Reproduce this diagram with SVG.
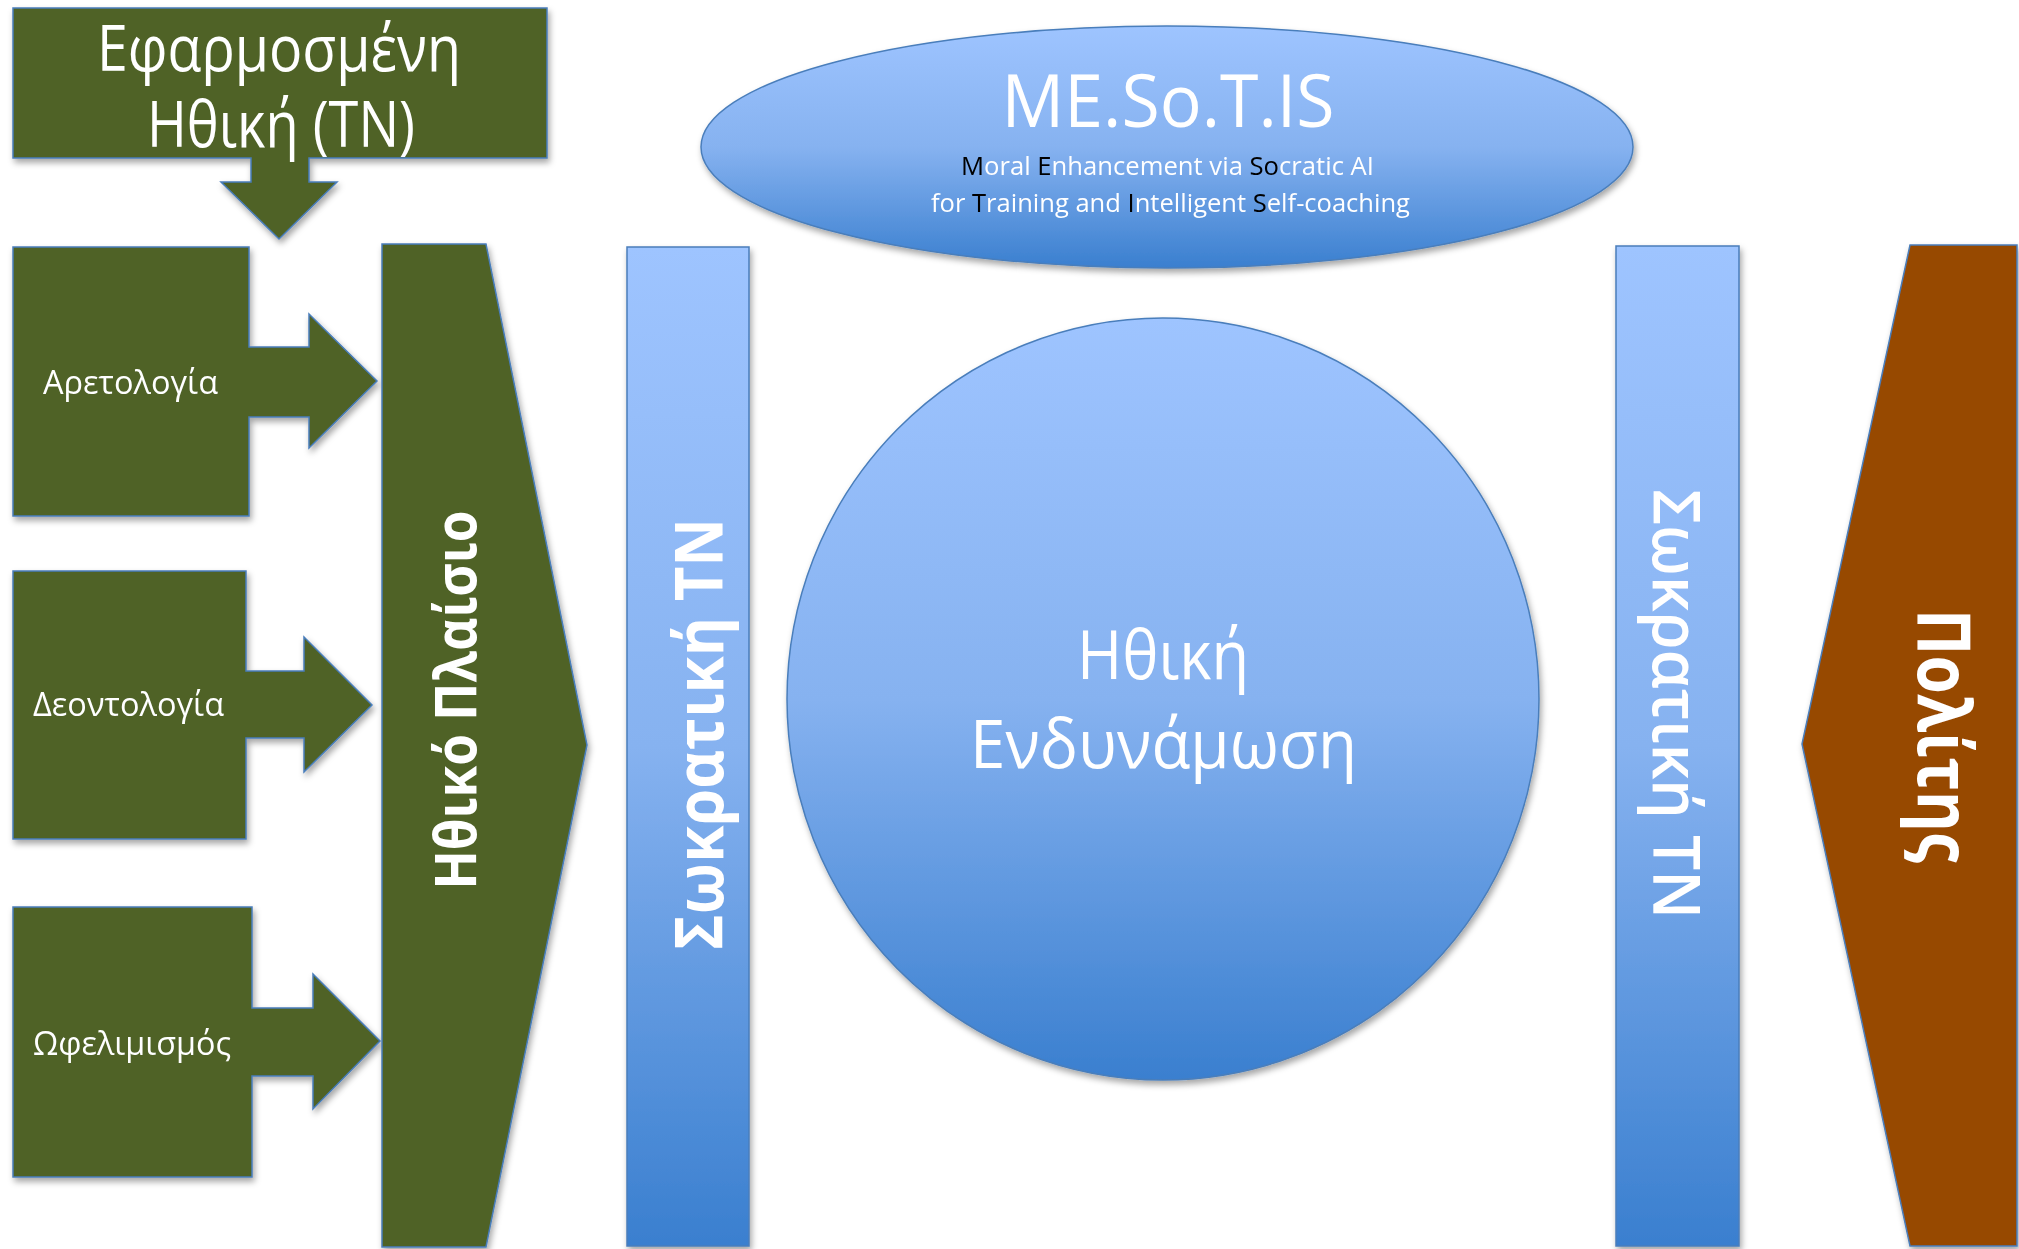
<svg xmlns="http://www.w3.org/2000/svg" width="2019" height="1249" viewBox="0 0 2019 1249">
<defs>
<linearGradient id="blue" x1="0" y1="0" x2="0" y2="1">
<stop offset="0" stop-color="#9EC4FF"/>
<stop offset="0.5" stop-color="#86B2F0"/>
<stop offset="1" stop-color="#3A7FCF"/>
</linearGradient>
<filter id="sh" x="-10%" y="-10%" width="120%" height="120%">
<feDropShadow dx="2" dy="4" stdDeviation="3" flood-color="#000" flood-opacity="0.35"/>
</filter>
</defs>
<style>
.green{fill:#4F6228;stroke:#4A7EBB;stroke-width:1.5}
.bl{fill:url(#blue);stroke:#4A7EBB;stroke-width:1.5}
.brown{fill:#974806;stroke:#4A7EBB;stroke-width:1.5}
text{font-family:"Open Sans","Noto Sans","DejaVu Sans",sans-serif;fill:#FFFFFF}
.lbl{font-size:32px}
.b{font-weight:bold}
.sb{font-weight:600}
.k{fill:#000000}
</style>
<rect width="2019" height="1249" fill="#FFFFFF"/>
<g id="connectors"/>
<g id="applied-ethics" filter="url(#sh)">
<path class="green" d="M13,8 H547 V158 H309 V182 H337 L279,239 L221,182 H251 V158 H13 Z"/>
<text x="279" y="71" font-size="64" text-anchor="middle" textLength="364" lengthAdjust="spacingAndGlyphs">Εφαρμοσμένη</text>
<text x="281" y="147" font-size="64" text-anchor="middle" textLength="268" lengthAdjust="spacingAndGlyphs">Ηθική (ΤΝ)</text>
</g>
<g id="virtue" filter="url(#sh)">
<path class="green" d="M13,247 H249 V347 H309 V314 L377,381 L309,448 V417 H249 V516 H13 Z"/>
<text class="lbl" x="43" y="394" textLength="175" lengthAdjust="spacingAndGlyphs">Αρετολογία</text>
</g>
<g id="deontology" filter="url(#sh)">
<path class="green" d="M13,571 H246 V671 H304 V637 L372,705 L304,772 V738 H246 V839 H13 Z"/>
<text class="lbl" x="33" y="716" textLength="191" lengthAdjust="spacingAndGlyphs">Δεοντολογία</text>
</g>
<g id="utilitarianism" filter="url(#sh)">
<path class="green" d="M13,907 H252 V1008 H313 V974 L380,1041 L313,1109 V1076 H252 V1177 H13 Z"/>
<text class="lbl" x="33" y="1055" textLength="198" lengthAdjust="spacingAndGlyphs">Ωφελιμισμός</text>
</g>
<g id="ethical-framework" filter="url(#sh)">
<path class="green" d="M382,244 H486 L587,745 L486,1247 H382 Z"/>
<text class="b" transform="translate(476,700) rotate(-90)" x="0" y="0" font-size="57" text-anchor="middle" textLength="379" lengthAdjust="spacingAndGlyphs">Ηθικό Πλαίσιο</text>
</g>
<g id="socratic-ai-left" filter="url(#sh)">
<rect class="bl" x="627" y="247" width="122" height="999"/>
<text class="b" transform="translate(723,734) rotate(-90)" x="0" y="0" font-size="66" text-anchor="middle" textLength="432" lengthAdjust="spacingAndGlyphs">Σωκρατική ΤΝ</text>
</g>
<g id="mesotis" filter="url(#sh)">
<ellipse class="bl" cx="1167" cy="147" rx="466" ry="121"/>
<text x="1168" y="127" font-size="73" text-anchor="middle" textLength="333" lengthAdjust="spacingAndGlyphs">ME.So.T.IS</text>
<text x="1167.5" y="175" font-size="25" text-anchor="middle" textLength="413" lengthAdjust="spacingAndGlyphs"><tspan class="k">M</tspan>oral <tspan class="k">E</tspan>nhancement via <tspan class="k">So</tspan>cratic AI</text>
<text x="1170.5" y="212" font-size="25" text-anchor="middle" textLength="479" lengthAdjust="spacingAndGlyphs">for <tspan class="k">T</tspan>raining and <tspan class="k">I</tspan>ntelligent <tspan class="k">S</tspan>elf-coaching</text>
</g>
<g id="moral-enhancement" filter="url(#sh)">
<ellipse class="bl" cx="1163" cy="699" rx="376" ry="381"/>
<text x="1163" y="679" font-size="67" text-anchor="middle" textLength="172" lengthAdjust="spacingAndGlyphs">Ηθική</text>
<text x="1163.5" y="768" font-size="67" text-anchor="middle" textLength="387" lengthAdjust="spacingAndGlyphs">Ενδυνάμωση</text>
</g>
<g id="socratic-ai-right" filter="url(#sh)">
<rect class="bl" x="1616" y="246" width="123" height="1000"/>
<text class="sb" transform="translate(1653,704) rotate(90)" x="0" y="0" font-size="66" text-anchor="middle" textLength="430" lengthAdjust="spacingAndGlyphs">Σωκρατική ΤΝ</text>
</g>
<g id="citizen" filter="url(#sh)">
<path class="brown" d="M1910,245 H2017 V1246 H1910 L1802,744 Z"/>
<text class="b" transform="translate(1918,736) rotate(90)" x="0" y="0" font-size="74" text-anchor="middle" textLength="254" lengthAdjust="spacingAndGlyphs">Πολίτης</text>
</g>
</svg>
